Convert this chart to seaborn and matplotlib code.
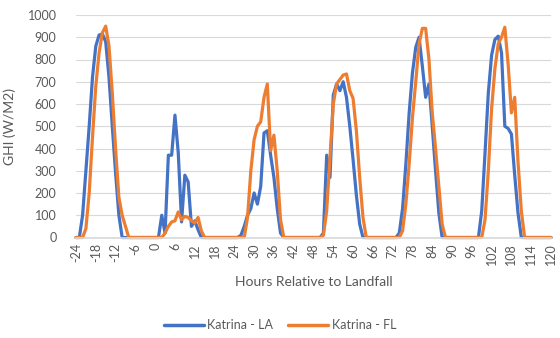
import matplotlib
matplotlib.use("Agg")
import matplotlib.pyplot as plt
import seaborn as sns
import pandas as pd

hours = list(range(-24, 121))

katrina_la = [
    0, 0, 100, 300, 500, 720, 860, 910, 915, 880, 720, 500,
    290, 100, 0, 0, 0, 0, 0, 0, 0, 0, 0, 0,
    0, 0, 100, 20, 370, 370, 550, 380, 70, 280, 250, 50,
    75, 35, 0, 0, 0, 0, 0, 0, 0, 0, 0, 0,
    0, 0, 10, 50, 100, 130, 200, 150, 230, 470, 480, 370,
    270, 130, 20, 0, 0, 0, 0, 0, 0, 0, 0, 0,
    0, 0, 0, 20, 370, 270, 640, 690, 660, 700, 630, 500,
    350, 190, 60, 0, 0, 0, 0, 0, 0, 0, 0, 0,
    0, 0, 20, 130, 330, 560, 740, 855, 900, 770, 630, 690,
    500, 300, 110, 0, 0, 0, 0, 0, 0, 0, 0, 0,
    0, 0, 0, 120, 380, 650, 820, 890, 905, 830, 500, 490,
    465, 280, 110, 0, 0, 0, 0, 0, 0, 0, 0, 0,
    0,
]

katrina_fl = [
    0, 0, 0, 40, 200, 450, 680, 830, 920, 950, 860, 650,
    400, 180, 100, 50, 0, 0, 0, 0, 0, 0, 0, 0,
    0, 0, 0, 20, 50, 70, 75, 115, 80, 95, 90, 75,
    65, 90, 30, 0, 0, 0, 0, 0, 0, 0, 0, 0,
    0, 0, 0, 0, 90, 300, 440, 500, 520, 630, 690, 390,
    460, 300, 80, 0, 0, 0, 0, 0, 0, 0, 0, 0,
    0, 0, 0, 10, 120, 360, 600, 690, 710, 730, 735, 660,
    625, 480, 270, 90, 0, 0, 0, 0, 0, 0, 0, 0,
    0, 0, 0, 30, 150, 330, 540, 700, 870, 940, 940, 800,
    560, 400, 230, 60, 0, 0, 0, 0, 0, 0, 0, 0,
    0, 0, 0, 0, 80, 300, 580, 760, 870, 900, 945, 780,
    560, 630, 340, 120, 0, 0, 0, 0, 0, 0, 0, 0,
    0,
]

series_names = ["Katrina - LA", "Katrina - FL"]
colors = ["#4472C4", "#ED7D31"]
x_ticks = list(range(-24, 121, 6))
y_ticks = list(range(0, 1001, 100))

df = pd.DataFrame({
    "hour": hours * 2,
    "ghi": katrina_la + katrina_fl,
    "series": [series_names[0]] * len(hours) + [series_names[1]] * len(hours),
})

sns.set_theme(style="white")
plt.rcParams["font.family"] = ["Lato", "DejaVu Sans"]

text_color = "#595959"
fig = plt.figure(figsize=(5.6, 3.38), dpi=100)
ax = fig.add_axes([76 / 560, 1 - 237.5 / 338, (551 - 76) / 560, (237.5 - 15) / 338])

sns.lineplot(data=df, x="hour", y="ghi", hue="series", hue_order=series_names,
             palette=colors, linewidth=2.3, ax=ax, legend=True, clip_on=False)

ax.set_xlim(-24, 120)
ax.set_ylim(0, 1000)
ax.set_xticks(x_ticks)
ax.set_xticklabels([str(t) for t in x_ticks], rotation=90)
ax.set_yticks(y_ticks)
ax.yaxis.grid(True, color="#D9D9D9", linewidth=0.8)
ax.set_axisbelow(True)
for s in ["top", "right", "left"]:
    ax.spines[s].set_visible(False)
ax.spines["bottom"].set_color("#D9D9D9")
ax.tick_params(axis="both", length=0, labelsize=9, colors=text_color)
ax.tick_params(axis="y", pad=14)
ax.tick_params(axis="x", pad=4)

ax.set_xlabel("Hours Relative to Landfall", fontsize=10, color=text_color, labelpad=8)
ax.set_ylabel("GHI (W/M2)", fontsize=10, color=text_color, labelpad=8)

handles, labels = ax.get_legend_handles_labels()
ax.get_legend().remove()
leg = fig.legend(handles, labels, loc="center", bbox_to_anchor=(0.5, 1 - 325 / 338),
                 ncol=2, frameon=False, fontsize=9, handlelength=3.2, columnspacing=1.2,
                 handletextpad=0.3)
for t in leg.get_texts():
    t.set_color(text_color)
for l in leg.get_lines():
    l.set_linewidth(2.5)

fig.savefig("out.png", dpi=100)
